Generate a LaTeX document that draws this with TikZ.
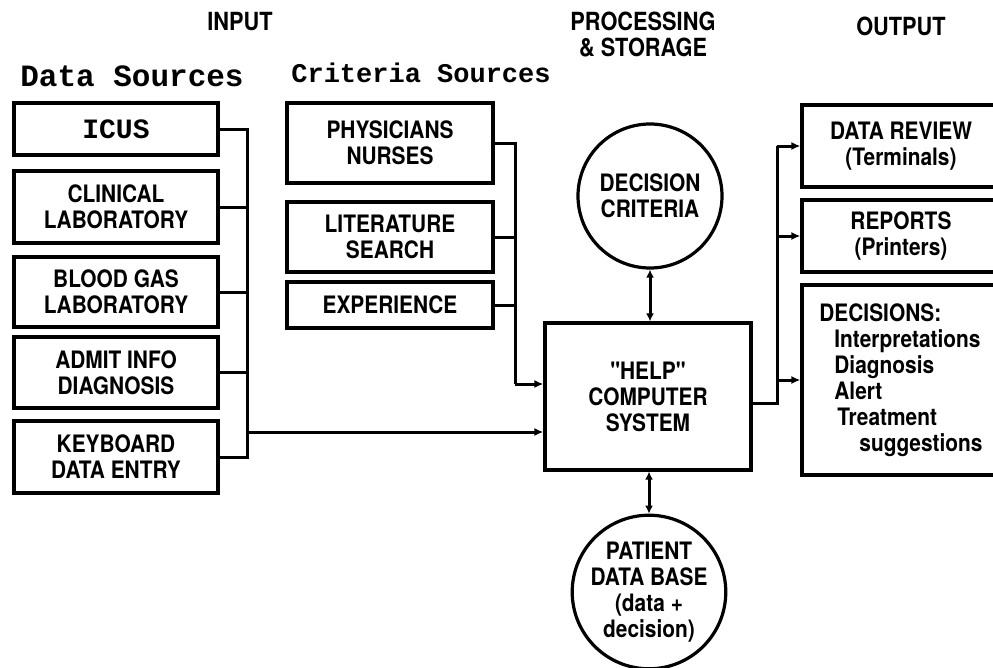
\documentclass[tikz,border=0pt]{standalone}
\usepackage{fontspec}
\setmainfont{TeX Gyre Heros}
\newfontfamily\labfont[FakeStretch=0.87]{TeX Gyre Heros}
\newfontfamily\typfont{Liberation Mono}
\usetikzlibrary{arrows.meta}
\tikzset{
  lab/.style={font=\labfont\bfseries\fontsize{24}{26}\selectfont, align=center, inner sep=0pt},
  hdr/.style={font=\labfont\bfseries\fontsize{25}{26}\selectfont, align=center, inner sep=0pt},
  box/.style={lab, draw, line width=3.2pt},
  circ/.style={lab, draw, circle, line width=3.2pt},
  conn/.style={line width=3pt},
  arr/.style={conn, -{Latex[length=9pt,width=8pt]}},
  darr/.style={conn, {Latex[length=8pt,width=8pt]}-{Latex[length=8pt,width=8pt]}}
}
\begin{document}
\begin{tikzpicture}[x=1pt,y=-1pt]
\useasboundingbox (0,0) rectangle (993,667);
\fill[white] (0,0) rectangle (993,667);

% headings
\node[hdr] (hin) at (240,22) {INPUT};
\node[hdr] (hproc) at (643,35) {PROCESSING\\\& STORAGE};
\node[hdr] (hout) at (901,26) {OUTPUT};
\node[inner sep=0pt, font=\typfont\bfseries\fontsize{31}{31}\selectfont] (hds) at (132,76) {Data Sources};
\node[inner sep=0pt, font=\typfont\bfseries\fontsize{27}{27}\selectfont] (hcs) at (421,73) {Criteria Sources};

% data sources
\node[box, minimum width=204pt, minimum height=52pt, font=\typfont\bfseries\fontsize{28}{28}\selectfont] (icus) at (116,129) {ICUS};
\node[box, minimum width=204pt, minimum height=72pt] (clin) at (116,207) {CLINICAL\\LABORATORY};
\node[box, minimum width=204pt, minimum height=70pt] (blood) at (116,292) {BLOOD GAS\\LABORATORY};
\node[box, minimum width=204pt, minimum height=71pt] (admit) at (116,372.5) {ADMIT INFO\\DIAGNOSIS};
\node[box, minimum width=204pt, minimum height=72pt] (keyb) at (116,457) {KEYBOARD\\DATA ENTRY};

% criteria sources
\node[box, minimum width=206pt, minimum height=80pt] (phys) at (390,143) {PHYSICIANS\\NURSES};
\node[box, minimum width=206pt, minimum height=70pt] (lit) at (390,237) {LITERATURE\\SEARCH};
\node[box, minimum width=206pt, minimum height=46pt] (exp) at (390,305) {EXPERIENCE};

% processing
\node[circ, minimum size=144pt] (dcrit) at (650,196) {DECISION\\CRITERIA};
\node[box, minimum width=206pt, minimum height=147pt] (help) at (648,396.5) {"HELP"\\COMPUTER\\SYSTEM};
\node[circ, minimum size=150pt] (pdb) at (649,592) {PATIENT\\DATA BASE\\(data +\\decision)};

% output
\node[box, minimum width=198pt, minimum height=82pt] (review) at (901,146) {DATA REVIEW\\(Terminals)};
\node[box, minimum width=198pt, minimum height=72pt] (reports) at (901,236) {REPORTS\\(Printers)};
\node[box, minimum width=198pt, minimum height=190pt, align=left] (dec) at (901,380)
  {DECISIONS:\\\hspace*{15pt}Interpretations\\\hspace*{15pt}Diagnosis\\\hspace*{15pt}Alert\\\hspace*{18pt}Treatment\\\hspace*{40pt}suggestions};

% data source bus
\coordinate (lbT) at (247,129);
\coordinate (lbB) at (247,457);
\coordinate (lbL) at (247,432);
\draw[conn] (icus.east) -- (lbT) -- (lbB) -- (keyb.east);
\draw[conn] (clin.east) -- (clin.east -| lbT);
\draw[conn] (blood.east) -- (blood.east -| lbT);
\draw[conn] (admit.east) -- (admit.east -| lbT);
\draw[arr] (lbL) -- (lbL -| help.west);

% criteria bus
\coordinate (cbT) at (515,143);
\coordinate (cbB) at (515,384);
\draw[conn] (phys.east) -- (cbT) -- (cbB);
\draw[conn] (lit.east) -- (lit.east -| cbT);
\draw[conn] (exp.east) -- (exp.east -| cbT);
\draw[arr] (cbB) -- (cbB -| help.west);

% processing arrows
\draw[darr] (dcrit.south) -- (dcrit.south |- help.north);
\draw[darr] (help.south -| pdb.north) -- (pdb.north);

% output bus
\coordinate (obT) at (777,146);
\coordinate (obB) at (777,403);
\draw[conn] (obB -| help.east) -- (obB) -- (obT);
\draw[arr] (obT) -- (review.west);
\draw[arr] (reports.west -| obT) -- (reports.west);
\draw[arr] (dec.west -| obT) -- (dec.west);
\end{tikzpicture}
\end{document}
